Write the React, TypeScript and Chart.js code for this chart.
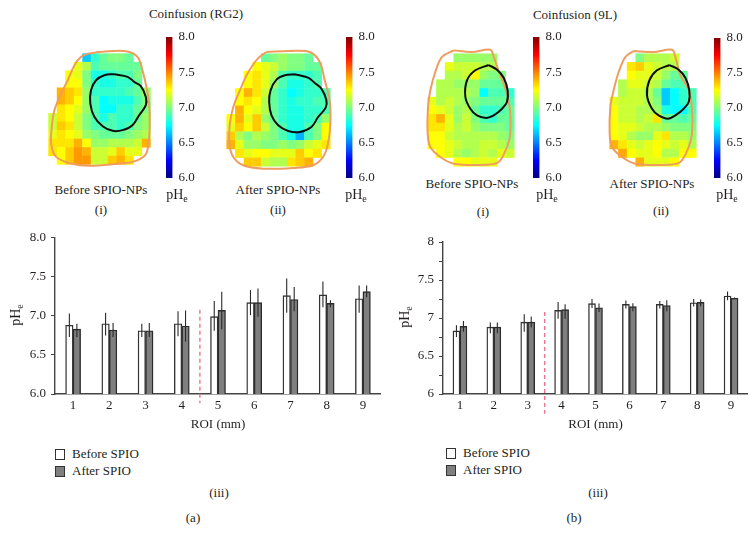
import React, { useEffect, useRef } from "react";
import { Chart, registerables } from "chart.js";

Chart.register(...registerables);

const FONT = '"Liberation Serif"';
const INK = "#231f20";
const _ = null;

const categories = ["1", "2", "3", "4", "5", "6", "7", "8", "9"];
const seriesNames = ["Before SPIO", "After SPIO"];

// Panel (a)
const beforeA = [6.88, 6.9, 6.81, 6.9, 6.99, 7.17, 7.26, 7.27, 7.22];
const afterA = [6.83, 6.82, 6.81, 6.87, 7.07, 7.17, 7.21, 7.16, 7.31];
const beforeALow = [6.73, 6.75, 6.73, 6.74, 6.81, 7.01, 7.04, 7.11, 7.04];
const beforeAHigh = [7.03, 7.04, 6.9, 7.06, 7.19, 7.33, 7.48, 7.44, 7.39];
const afterALow = [6.73, 6.73, 6.73, 6.67, 6.83, 6.99, 7.06, 7.11, 7.24];
const afterAHigh = [6.9, 6.91, 6.91, 7.07, 7.31, 7.35, 7.37, 7.2, 7.39];

// Panel (b)
const beforeB = [6.83, 6.88, 6.945, 7.1, 7.19, 7.18, 7.18, 7.2, 7.29];
const afterB = [6.89, 6.88, 6.945, 7.11, 7.135, 7.15, 7.165, 7.205, 7.26];
const beforeBLow = [6.75, 6.8, 6.82, 6.99, 7.13, 7.125, 7.125, 7.15, 7.235];
const beforeBHigh = [6.905, 6.94, 7.05, 7.21, 7.25, 7.23, 7.225, 7.25, 7.35];
const afterBLow = [6.82, 6.8, 6.875, 6.99, 7.08, 7.09, 7.09, 7.155, 7.25];
const afterBHigh = [6.96, 6.94, 7.02, 7.18, 7.19, 7.195, 7.235, 7.245, 7.27];

// pHe maps: rows of voxels
const mapRG2Before = [
  [_, _, _, _, 6.65, 6.85, 6.95, 7.0, 7.0, 6.95, _, _],
  [_, _, _, 7.2, 7.1, 6.9, 6.95, 6.95, 6.95, 6.95, 6.95, _],
  [_, _, 7.25, 7.2, 7.0, 6.8, 6.8, 6.85, 6.9, 6.9, 7.0, _],
  [_, _, 7.25, 7.25, 7.0, 6.85, 6.8, 6.8, 6.85, 6.85, 6.95, _],
  [_, 7.4, 7.35, 7.3, 7.05, 6.85, 6.85, 6.85, 6.85, 6.9, 6.95, 7.05],
  [_, 7.4, 7.35, 7.25, 7.05, 6.9, 6.75, 6.8, 6.8, 6.8, 6.9, 7.0],
  [_, 7.3, 7.25, 7.2, 7.05, 6.9, 6.75, 6.75, 6.85, 6.85, 6.95, 7.0],
  [7.15, 7.3, 7.25, 7.15, 7.0, 6.9, 6.8, 6.9, 6.85, 6.85, 6.95, 7.05],
  [7.15, 7.35, 7.3, 7.15, 7.0, 6.9, 6.9, 6.9, 6.85, 6.9, 7.0, 7.05],
  [7.2, 7.3, 7.25, 7.2, 7.05, 7.0, 6.95, 6.95, 6.95, 7.0, 7.05, 7.1],
  [7.3, 7.3, 7.3, 7.4, 7.25, 7.05, 7.05, 7.1, 7.1, 7.1, 7.15, 7.4],
  [7.3, 7.25, 7.35, 7.45, 7.4, 7.15, 7.15, 7.2, 7.35, 7.2, 7.2, _],
  [_, 7.25, 7.35, 7.45, 7.45, 7.15, 7.15, 7.35, 7.4, 7.3, _, _],
];
const mapRG2After = [
  [_, _, _, _, 6.95, 7.0, 7.05, 7.0, 7.0, 6.95, _, _],
  [_, _, _, 7.25, 7.2, 7.15, 7.05, 7.0, 7.0, 6.95, 6.95, _],
  [_, _, 7.25, 7.3, 7.2, 7.1, 6.9, 6.85, 6.85, 6.85, 6.9, _],
  [_, _, 7.25, 7.3, 7.2, 7.05, 6.9, 6.8, 6.8, 6.85, 6.9, _],
  [_, 7.25, 7.4, 7.3, 7.15, 6.95, 6.85, 6.75, 6.8, 6.85, 6.85, 6.9],
  [_, 7.25, 7.3, 7.25, 7.1, 6.95, 6.85, 6.8, 6.85, 6.85, 6.9, 6.9],
  [_, 7.4, 7.25, 7.2, 7.1, 6.95, 6.85, 6.8, 6.8, 6.85, 6.85, 6.9],
  [7.25, 7.4, 7.2, 7.35, 7.05, 6.95, 6.85, 6.8, 6.8, 6.85, 6.9, 7.05],
  [7.2, 7.35, 7.25, 7.35, 7.15, 7.0, 6.9, 6.8, 6.8, 6.9, 7.0, 7.25],
  [7.35, 7.1, 7.0, 7.1, 7.05, 7.0, 6.9, 6.8, 6.6, 6.9, 7.0, 7.25],
  [7.4, 7.2, 7.05, 7.05, 7.0, 7.0, 7.05, 7.0, 7.05, 7.15, 7.2, 7.3],
  [_, 7.3, 7.2, 7.25, 7.25, 7.2, 7.2, 7.2, 7.35, 7.25, 7.3, _],
  [_, _, 7.35, 7.35, 7.15, 7.1, 7.1, 7.3, 7.35, 7.4, _, _],
];
const map9LBefore = [
  [_, _, _, 7.05, 7.05, 7.05, 7.05, 7.05, _, _],
  [_, _, 7.2, 7.15, 7.15, 7.15, 7.1, 7.1, _, _],
  [_, _, 7.1, 7.1, 7.15, 7.25, 7.05, 7.0, 7.0, _],
  [_, 7.1, 7.1, 7.05, 7.05, 7.05, 6.95, 6.95, 6.95, _],
  [_, 7.1, 7.1, 7.1, 7.1, 7.05, 6.75, 6.9, 6.9, 6.85],
  [7.2, 7.1, 7.15, 7.1, 7.05, 7.0, 6.95, 6.95, 6.95, 6.9],
  [7.25, 7.2, 7.15, 7.05, 7.1, 6.95, 6.85, 6.85, 6.9, 6.95],
  [7.3, 7.4, 7.2, 7.05, 7.15, 7.0, 6.9, 6.85, 6.95, 6.95],
  [7.3, 7.3, 7.2, 7.1, 7.15, 7.05, 7.0, 7.0, 7.0, 6.95],
  [7.25, 7.25, 7.15, 7.1, 7.1, 7.1, 7.1, 7.1, 7.05, 7.0],
  [7.25, 7.25, 7.2, 7.15, 7.1, 7.1, 7.15, 7.15, 7.1, 7.05],
  [_, 7.25, 7.2, 7.1, 7.05, 7.1, 7.15, 7.1, 7.2, 7.15],
  [_, _, _, 7.25, 7.25, 7.2, 7.2, 7.2, _, _],
];
const map9LAfter = [
  [_, _, _, 7.0, 7.1, 7.1, 7.1, 7.15, _, _],
  [_, _, 7.3, 7.35, 7.2, 7.15, 7.1, 7.1, _, _],
  [_, _, 7.25, 7.2, 7.2, 7.15, 7.05, 6.95, 6.95, _],
  [_, 7.1, 7.2, 7.2, 7.15, 7.1, 6.95, 6.9, 6.9, _],
  [_, 7.1, 7.15, 7.15, 7.1, 6.95, 6.65, 6.75, 6.85, 6.9],
  [7.2, 7.15, 7.15, 7.15, 7.1, 7.0, 6.65, 6.75, 6.85, 6.9],
  [7.25, 7.15, 7.15, 7.1, 7.1, 7.05, 6.8, 6.75, 6.75, 6.9],
  [7.25, 7.15, 7.15, 7.1, 7.15, 7.3, 6.95, 6.95, 6.9, 6.95],
  [7.25, 7.2, 7.2, 7.15, 7.1, 7.1, 7.05, 7.0, 7.0, 7.0],
  [7.25, 7.2, 7.1, 7.05, 7.05, 7.2, 7.3, 7.1, 7.1, 7.05],
  [7.4, 7.3, 7.2, 7.15, 7.2, 7.25, 7.2, 7.15, 7.2, 7.1],
  [_, 7.42, 7.25, 7.2, 7.2, 7.25, 7.1, 7.1, 7.25, 7.25],
  [_, _, _, 7.4, 7.2, 7.2, 7.2, 7.25, _, _],
];

// Outlines, in voxel units of each map: [column, row]
const brainRG2Before = [[4.61, 0], [6.37, -0.2], [9.1, -0.27], [10.47, 0.39], [11.05, 1.95], [11.52, 3.91], [11.84, 5.86], [11.91, 8.2], [11.76, 10.55], [11.37, 11.91], [9.88, 12.7], [7.54, 12.97], [4.8, 13.16], [2.66, 12.89], [0.9, 12.11], [0.31, 10.55], [0.43, 8.2], [0.7, 6.64], [1.48, 4.69], [2.27, 3.13], [3.05, 1.37], [3.83, 0.39], [4.61, 0]];
const tumorRG2Before = [[7.73, 2.42], [9.3, 2.73], [10.08, 3.32], [10.86, 3.83], [11.45, 5.08], [11.45, 6.05], [10.66, 7.23], [9.88, 8.4], [8.71, 8.98], [7.54, 9.06], [6.37, 8.52], [5.39, 7.42], [4.92, 5.86], [5.0, 4.3], [5.59, 3.13], [6.56, 2.54], [7.73, 2.42]];
const brainRG2After = [[4.62, -0.19], [7.31, -0.31], [9.62, -0.19], [10.77, 0.96], [11.35, 3.08], [11.92, 5.38], [12, 8.08], [11.73, 10.38], [11.15, 11.92], [10, 12.88], [7.69, 13.19], [4.23, 13.27], [1.92, 12.88], [0.77, 11.92], [0.31, 10.38], [0.38, 8.08], [0.77, 6.15], [1.54, 4.23], [2.31, 2.5], [3.27, 0.96], [4.04, 0.19], [4.62, -0.19]];
const tumorRG2After = [[7.88, 2.38], [9.42, 2.77], [10.19, 3.38], [10.96, 4.04], [11.54, 5.38], [11.46, 6.23], [10.58, 7.31], [9.81, 8.46], [8.46, 9.04], [7.12, 8.92], [5.96, 8.27], [5.19, 7.12], [4.92, 5.58], [5.08, 4.23], [5.77, 3], [6.73, 2.5], [7.88, 2.38]];
const brain9LBefore = [[3, -0.38], [5.12, -0.19], [7.23, -0.46], [7.62, 0.38], [8.31, 2.31], [8.96, 4.04], [9.46, 6.15], [9.54, 9.23], [9.15, 10.77], [8.19, 12.5], [6.65, 12.81], [3, 12.69], [1.46, 11.92], [0.31, 10.77], [0, 9.23], [0.04, 6.15], [0.31, 4.23], [0.88, 2.12], [1.65, 0.38], [3, -0.38]];
const tumor9LBefore = [[7.04, 1.31], [8, 1.85], [8.77, 2.77], [9.23, 4.23], [9.15, 5.58], [8.58, 6.35], [7.62, 7.12], [6.77, 7.42], [5.69, 7.12], [4.92, 6.35], [4.35, 5], [4.54, 3.08], [5.5, 1.92], [7.04, 1.31]];
const brain9LAfter = [[2.77, -0.31], [5.08, -0.19], [7.19, -0.46], [7.58, 0.38], [8.15, 2.5], [9.12, 4.23], [9.5, 6.35], [9.5, 9.23], [9.12, 10.77], [8.15, 12.5], [6.62, 12.81], [2.96, 12.69], [1.42, 11.92], [0.27, 10.77], [0, 9.23], [0.08, 6.15], [0.46, 4.23], [1.04, 2.12], [1.81, 0.38], [2.77, -0.31]];
const tumor9LAfter = [[6.92, 1.31], [7.96, 1.85], [8.73, 2.77], [9.19, 4.23], [9.12, 5.58], [8.54, 6.35], [7.58, 7.12], [6.73, 7.5], [5.65, 7.12], [4.88, 6.35], [4.31, 4.81], [4.58, 3.08], [5.46, 1.92], [6.92, 1.31]];

const colorbarTicks = [6, 6.5, 7, 7.5, 8];
const jetStops = [
  [0, 0, 0, 128],
  [0.125, 0, 0, 255],
  [0.375, 0, 255, 255],
  [0.625, 255, 255, 0],
  [0.875, 255, 0, 0],
  [1, 128, 0, 0],
];

function jet(ph: number) {
  const t = (ph - 6) / 2;
  for (let i = 1; i < jetStops.length; i++) {
    const a = jetStops[i - 1];
    const b = jetStops[i];
    if (t <= b[0]) {
      const f = (t - a[0]) / (b[0] - a[0]);
      const c = [1, 2, 3].map((k) => Math.round(a[k] + (b[k] - a[k]) * f));
      return `rgb(${c[0]},${c[1]},${c[2]})`;
    }
  }
  return "rgb(128,0,0)";
}

function HeatMap({ grid, brain, tumor, ox, oy, cell }: any) {
  const ref = useRef<HTMLCanvasElement>(null);
  const cols = grid[0].length;
  const rows = grid.length;
  const w = Math.round((cols + 2) * cell);
  const h = Math.round((rows + 2) * cell);
  useEffect(() => {
    const voxels: any[] = [];
    grid.forEach((row: any[], r: number) =>
      row.forEach((v, c) => {
        if (v !== null) voxels.push({ x: c + 0.5, y: r + 0.5, v });
      })
    );
    const outline = (pts: number[][], color: string, width: number) => ({
      type: "scatter",
      data: pts.map((p) => ({ x: p[0], y: p[1] })),
      showLine: true,
      tension: 0.35,
      borderColor: color,
      borderWidth: width,
      pointRadius: 0,
      fill: false,
      clip: false,
    });
    const chart = new Chart(ref.current!, {
      type: "scatter",
      data: {
        datasets: [
          outline(tumor, "#0d0d0d", 2),
          outline(brain, "#ef9d5e", 2),
          {
            data: voxels,
            pointStyle: "rect",
            pointRadius: (cell + 0.4) / Math.SQRT2,
            pointBorderWidth: 0,
            backgroundColor: voxels.map((p) => jet(p.v)),
            borderWidth: 0,
          },
        ] as any,
      },
      options: {
        responsive: false,
        animation: false,
        events: [],
        layout: { padding: 0, autoPadding: false },
        plugins: { legend: { display: false }, tooltip: { enabled: false } },
        scales: {
          x: { type: "linear", display: false, min: -1, max: cols + 1 },
          y: { type: "linear", display: false, min: -1, max: rows + 1, reverse: true },
        },
      },
    });
    return () => chart.destroy();
  }, []);
  return (
    <canvas
      ref={ref}
      width={w}
      height={h}
      style={{ position: "absolute", left: ox - cell, top: oy - cell, width: w, height: h }}
    />
  );
}

function ColorBar({ left, top, barWidth, height }: any) {
  const ref = useRef<HTMLCanvasElement>(null);
  const pad = 10;
  const w = Math.round(barWidth + 30);
  const h = height + 2 * pad;
  useEffect(() => {
    const chart = new Chart(ref.current!, {
      type: "bar",
      data: {
        labels: ["pHe"],
        datasets: [
          {
            data: [[colorbarTicks[0], colorbarTicks[colorbarTicks.length - 1]]],
            barPercentage: 1,
            categoryPercentage: 1,
            backgroundColor: (ctx: any) => {
              const area = ctx.chart.chartArea;
              if (!area) return "#000";
              const g = ctx.chart.ctx.createLinearGradient(0, area.bottom, 0, area.top);
              jetStops.forEach((s) => g.addColorStop(s[0], jet(6 + 2 * s[0])));
              return g;
            },
          },
        ] as any,
      },
      options: {
        responsive: false,
        animation: false,
        events: [],
        layout: { padding: { top: pad, bottom: pad }, autoPadding: false },
        plugins: { legend: { display: false }, tooltip: { enabled: false } },
        scales: {
          x: { display: false },
          y: {
            position: "right",
            min: 6,
            max: 8,
            afterFit: (s: any) => {
              s.width = w - barWidth;
              s.paddingTop = 0;
              s.paddingBottom = 0;
            },
            grid: { display: false, drawTicks: false },
            border: { display: false },
            afterBuildTicks: (s: any) => {
              s.ticks = colorbarTicks.map((value) => ({ value }));
            },
            ticks: {
              padding: 6,
              color: INK,
              font: { family: FONT, size: 13 },
              callback: (v: any) => Number(v).toFixed(1),
            },
          },
        },
      },
    });
    return () => chart.destroy();
  }, []);
  return (
    <canvas
      ref={ref}
      width={w}
      height={h}
      style={{ position: "absolute", left, top: top - pad, width: w, height: h }}
    />
  );
}

function BarPanel({ left, top, width, height, padTop, axisW, barW, before, after, bLow, bHigh, aLow, aHigh, divider, step, fmt, dividerTop, dividerBottom }: any) {
  const ref = useRef<HTMLCanvasElement>(null);
  useEffect(() => {
    const errorBars = {
      id: "errorBars",
      afterDatasetsDraw(chart: any) {
        const { ctx, scales } = chart;
        const ranges = [[bLow, bHigh], [aLow, aHigh]];
        ctx.save();
        ctx.strokeStyle = "#2a2a2a";
        ctx.lineWidth = 1.1;
        ranges.forEach(([lo, hi], d) => {
          chart.getDatasetMeta(d).data.forEach((bar: any, i: number) => {
            ctx.beginPath();
            ctx.moveTo(bar.x, scales.y.getPixelForValue(lo[i]));
            ctx.lineTo(bar.x, scales.y.getPixelForValue(hi[i]));
            ctx.stroke();
          });
        });
        ctx.strokeStyle = "#e8788a";
        ctx.lineWidth = 1.4;
        ctx.setLineDash([4, 3]);
        const x = scales.x.getPixelForValue(divider);
        ctx.beginPath();
        ctx.moveTo(x, scales.y.getPixelForValue(dividerTop));
        ctx.lineTo(x, scales.y.getPixelForValue(dividerBottom));
        ctx.stroke();
        ctx.restore();
      },
    };
    const chart = new Chart(ref.current!, {
      type: "bar",
      data: {
        labels: categories,
        datasets: [
          { label: seriesNames[0], data: before, backgroundColor: "#ffffff", borderColor: "#333333", borderWidth: 1.4, barThickness: barW },
          { label: seriesNames[1], data: after, backgroundColor: "#7f7f7f", borderColor: "#2b2b2b", borderWidth: 1.4, barThickness: barW },
        ],
      },
      options: {
        responsive: false,
        animation: false,
        events: [],
        layout: { padding: { top: padTop } },
        plugins: { legend: { display: false }, tooltip: { enabled: false } },
        scales: {
          x: {
            grid: { display: false, drawTicks: false },
            border: { color: "#444444", width: 1.4 },
            afterFit: (s: any) => {
              s.height = 38;
            },
            ticks: { padding: 4, color: INK, font: { family: FONT, size: 13 }, maxRotation: 0 },
            title: { display: true, text: "ROI (mm)", color: INK, font: { family: FONT, size: 13 }, padding: 0 },
          },
          y: {
            min: 6,
            max: 8,
            afterFit: (s: any) => {
              s.width = axisW;
            },
            grid: { drawOnChartArea: false, tickLength: 4, color: "#444444", tickWidth: 1 },
            border: { color: "#444444", width: 1.4 },
            ticks: {
              stepSize: step,
              padding: 5,
              autoSkip: false,
              color: INK,
              font: { family: FONT, size: 13 },
              callback: fmt,
            },
          },
        },
      },
      plugins: [errorBars],
    } as any);
    return () => chart.destroy();
  }, []);
  return (
    <canvas
      ref={ref}
      width={width}
      height={height}
      style={{ position: "absolute", left, top, width, height }}
    />
  );
}

function T({ x, y, children, rotate, size = 13 }: any) {
  return (
    <span
      style={{
        position: "absolute",
        left: x,
        top: y,
        transform: `translate(-50%,-50%)${rotate ? ` rotate(${rotate}deg)` : ""}`,
        whiteSpace: "nowrap",
        font: `${size}px ${FONT}`,
        lineHeight: "15px",
        color: INK,
      }}
    >
      {children}
    </span>
  );
}

const PHe = () => (
  <>
    pH<span style={{ fontSize: 10, position: "relative", top: 3 }}>e</span>
  </>
);

function LegendItem({ x, y, fill, label }: any) {
  return (
    <>
      <span
        style={{
          position: "absolute",
          left: x,
          top: y - 5,
          width: 8,
          height: 9,
          background: fill,
          border: "1px solid #333",
        }}
      />
      <span
        style={{
          position: "absolute",
          left: x + 17,
          top: y - 8,
          whiteSpace: "nowrap",
          font: `13px ${FONT}`,
          lineHeight: "15px",
          color: INK,
        }}
      >
        {label}
      </span>
    </>
  );
}

const fmtA = (v: any) => Number(v).toFixed(1);
const fmtB = (v: any) => (Math.abs(v * 2 - Math.round(v * 2)) < 1e-6 ? String(Number(v)) : "");

export default function App() {
  return (
    <div style={{ position: "absolute", left: 0, top: 0, width: 756, height: 542, background: "#fff", overflow: "hidden" }}>
      <HeatMap grid={mapRG2Before} brain={brainRG2Before} tumor={tumorRG2Before} ox={49} oy={53.3} cell={8.53} />
      <HeatMap grid={mapRG2After} brain={brainRG2After} tumor={tumorRG2After} ox={226.7} oy={53.3} cell={8.67} />
      <HeatMap grid={map9LBefore} brain={brain9LBefore} tumor={tumor9LBefore} ox={427.3} oy={53.3} cell={8.67} />
      <HeatMap grid={map9LAfter} brain={brain9LAfter} tumor={tumor9LAfter} ox={609.3} oy={53.3} cell={8.67} />

      <ColorBar left={166} top={37} barWidth={6.5} height={141} />
      <ColorBar left={346} top={37} barWidth={6.5} height={141} />
      <ColorBar left={533} top={37} barWidth={6.5} height={141} />
      <ColorBar left={714} top={38} barWidth={6.5} height={140} />

      <T x={196} y={13}>Coinfusion (RG2)</T>
      <T x={575} y={14}>Coinfusion (9L)</T>
      <T x={101} y={189}>Before SPIO-NPs</T>
      <T x={278} y={189}>After SPIO-NPs</T>
      <T x={472} y={183}>Before SPIO-NPs</T>
      <T x={652} y={183}>After SPIO-NPs</T>
      <T x={101} y={209}>(i)</T>
      <T x={278} y={209}>(ii)</T>
      <T x={483} y={211}>(i)</T>
      <T x={661} y={210}>(ii)</T>
      <T x={177} y={195} size={14}><PHe /></T>
      <T x={356} y={195} size={14}><PHe /></T>
      <T x={547} y={195} size={14}><PHe /></T>
      <T x={727} y={195} size={14}><PHe /></T>

      <BarPanel left={0} top={225} width={381} height={207} padTop={11} axisW={55} barW={7.5}
        before={beforeA} after={afterA} bLow={beforeALow} bHigh={beforeAHigh} aLow={afterALow} aHigh={afterAHigh}
        divider={3.5} dividerTop={7.08} dividerBottom={5.88} step={0.5} fmt={fmtA} />
      <BarPanel left={388} top={225} width={360} height={207} padTop={17} axisW={55} barW={7}
        before={beforeB} after={afterB} bLow={beforeBLow} bHigh={beforeBHigh} aLow={afterBLow} aHigh={afterBHigh}
        divider={2.5} dividerTop={7.08} dividerBottom={5.74} step={0.25} fmt={fmtB} />

      <T x={16} y={315} rotate={-90} size={14}><PHe /></T>
      <T x={405} y={317} rotate={-90} size={14}><PHe /></T>

      <LegendItem x={55} y={454} fill="#fff" label={seriesNames[0]} />
      <LegendItem x={55} y={471} fill="#7f7f7f" label={seriesNames[1]} />
      <LegendItem x={446} y={453} fill="#fff" label={seriesNames[0]} />
      <LegendItem x={446} y={470} fill="#7f7f7f" label={seriesNames[1]} />

      <T x={219} y={492}>(iii)</T>
      <T x={598} y={492}>(iii)</T>
      <T x={193} y={517}>(a)</T>
      <T x={574} y={517}>(b)</T>
    </div>
  );
}
